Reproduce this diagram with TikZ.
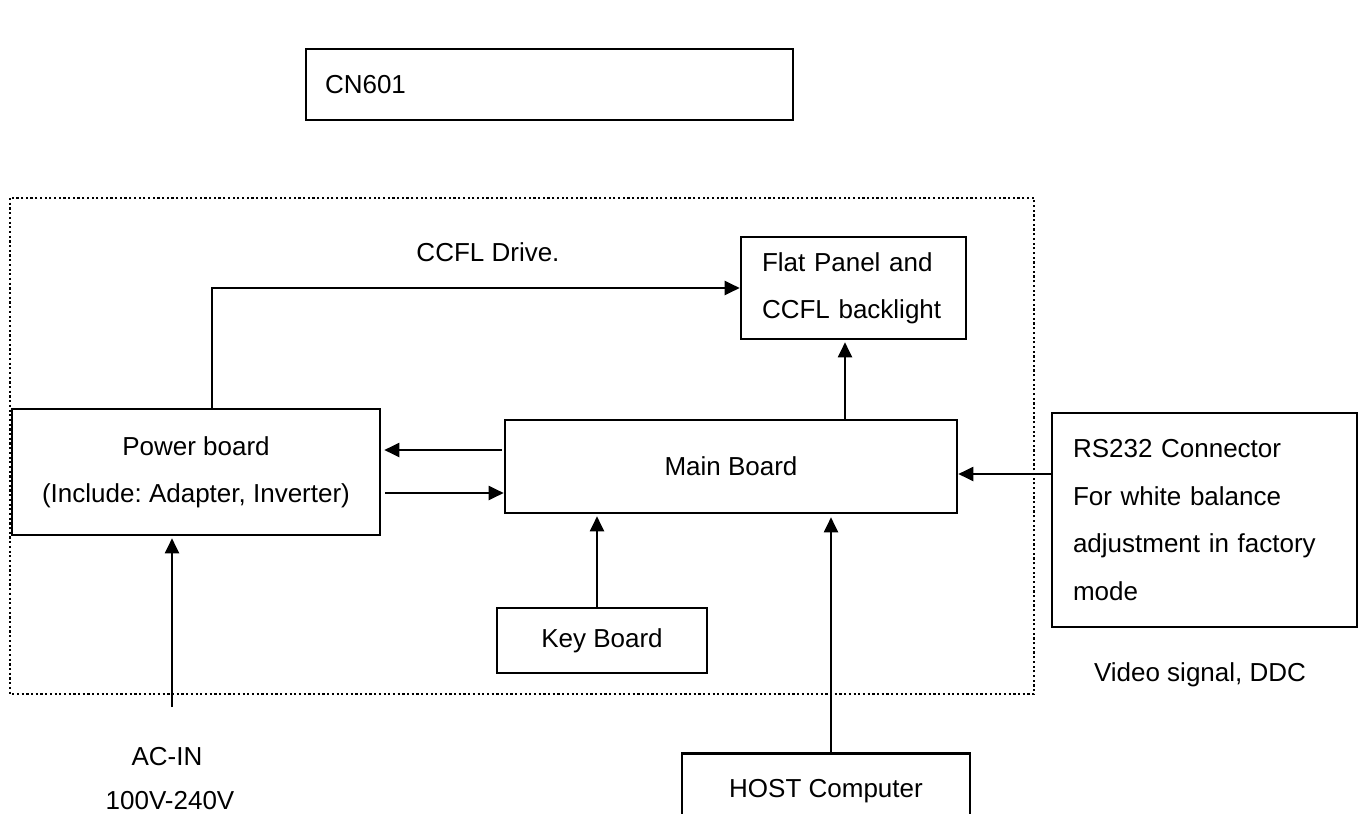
\documentclass[tikz,border=0pt]{standalone}
\usepackage{fontspec}
\setmainfont{Liberation Sans}
\usetikzlibrary{arrows.meta}
\frenchspacing
\begin{document}
\begin{tikzpicture}[x=0.5pt,y=-0.5pt,
  font=\fontsize{13pt}{23.5pt}\selectfont\frenchspacing,
  box/.style={draw,line width=1.3pt,inner sep=0pt},
  arr/.style={line width=1pt,-{Triangle[length=7.5pt,width=7pt]}},
  lbl/.style={inner sep=0pt}]
\clip (0,0) rectangle (1362,814);
\fill[white] (0,0) rectangle (1362,814);
% dotted enclosure
\draw[line width=1.1pt,dash pattern=on 1.1pt off 1.25pt] (10,198) rectangle (1034,694);
% boxes
\node[box,minimum width=243.5pt,minimum height=35.5pt,inner xsep=9.5pt,text width=224.5pt,align=left] (cn) at (549.5,84.5) {CN601};
\node[box,minimum width=112.5pt,minimum height=51pt,inner xsep=10.5pt,text width=91.5pt,align=left] (flat) at (853.5,288) {Flat Panel and\\CCFL backlight};
\node[box,minimum width=184pt,minimum height=63pt,align=center] (power) at (196,472) {Power board\\(Include: Adapter, Inverter)};
\node[box,minimum width=226pt,minimum height=46.5pt] (main) at (731,466.5) {Main Board};
\node[box,minimum width=105pt,minimum height=32.5pt] (key) at (602,640.5) {Key Board};
\node[box,minimum width=152.5pt,minimum height=107pt,inner xsep=10.5pt,text width=131.5pt,align=left,
  font=\fontsize{13pt}{23.9pt}\selectfont\frenchspacing] (rs) at (1204.5,520) {RS232 Connector\\For white balance\\adjustment in factory\\mode};
\node[box,anchor=north,minimum width=144pt,text height=22pt,text depth=40pt] (host) at (826,752) {HOST Computer};
% labels
\node[lbl] (ccfl) at (488,252) {CCFL Drive.};
\node[lbl] (video) at (1200,675) {Video signal, DDC};
\node[lbl] (acin) at (167,757) {AC-IN};
\node[lbl] (volt) at (170,801) {100V-240V};
% connector helper coordinates
\coordinate (cc) at (212,289);
\coordinate (acend) at (172,707);
% connectors
\draw[arr] (power.north -| cc) |- (flat.west);
\draw[arr] ([xshift=-1pt]main.west |- 0,450) -- ([xshift=1.5pt]power.east |- 0,450);
\draw[arr] ([xshift=2pt]power.east |- 0,493) -- (main.west |- 0,493);
\draw[arr] (key.north -| 597,0) -- ([yshift=-1pt]main.south -| 597,0);
\draw[arr] (host.north -| 831,0) -- ([yshift=-1.5pt]main.south -| 831,0);
\draw[arr] (main.north -| 845,0) -- ([yshift=-1pt]flat.south -| 845,0);
\draw[arr] (rs.west |- 0,474) -- (main.east |- 0,474);
\draw[arr] (acend) -- ([yshift=-1pt]power.south -| acend);
\end{tikzpicture}
\end{document}
